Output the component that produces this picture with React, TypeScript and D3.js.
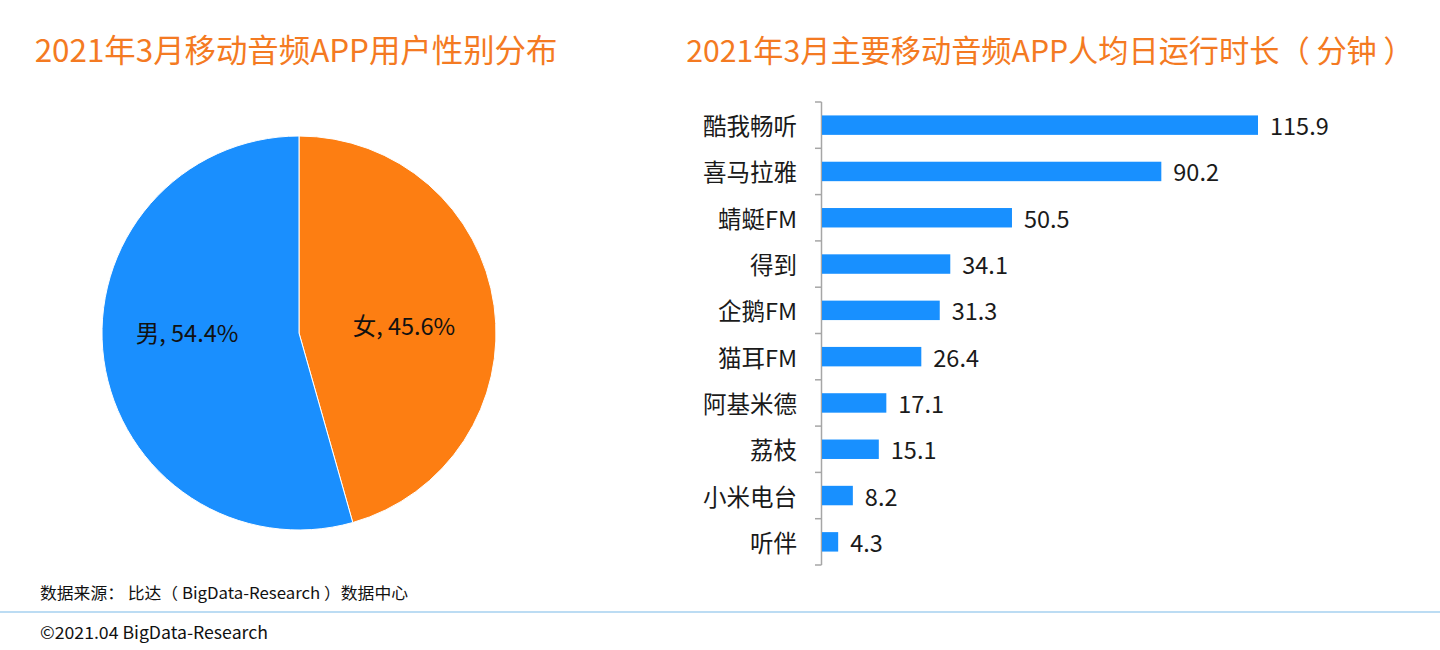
import React from "react";
import * as d3 from "d3";

const pieLabels = ["女", "男"];
const pieValues = [45.6, 54.4];
const pieColors = ["#fd7e12", "#1a8ffe"];

const apps = ["酷我畅听", "喜马拉雅", "蜻蜓FM", "得到", "企鹅FM", "猫耳FM", "阿基米德", "荔枝", "小米电台", "听伴"];
const minutes = [115.9, 90.2, 50.5, 34.1, 31.3, 26.4, 17.1, 15.1, 8.2, 4.3];

const titleLeft = "2021年3月移动音频APP用户性别分布";
const titleRight = "2021年3月主要移动音频APP人均日运行时长（ 分钟 ）";
const sourceText = "数据来源： 比达（ BigData-Research ）数据中心";
const copyText = "©2021.04 BigData-Research";

const FONT = "'Noto Sans CJK SC', 'Noto Sans', sans-serif";

export default function App() {
  const W = 1440, H = 650;
  const cx = 299, cy = 333, r = 197;
  const pie = d3.pie<number>().sort(null).value((d) => d);
  const arcs = pie(pieValues);
  const arc = d3.arc<d3.PieArcDatum<number>>().innerRadius(0).outerRadius(r);
  const labelArc = d3.arc<d3.PieArcDatum<number>>().innerRadius(110).outerRadius(110);

  const y = d3.scaleBand<string>().domain(apps).range([102, 565]).paddingInner(0.58).paddingOuter(0.29);
  const yOuter = d3.scaleBand<string>().domain(apps).range([102, 565]);
  const x = d3.scaleLinear().domain([0, 115.9]).range([822, 1258]);

  return (
    <svg width={W} height={H} style={{ display: "block", position: "absolute", left: 0, top: 0 }} fontFamily={FONT}>
      <rect width={W} height={H} fill="#fff" />
      <text x={296} y={62} textAnchor="middle" fontSize={31.4} fill="#f47a22">{titleLeft}</text>
      <text x={1050} y={62} textAnchor="middle" fontSize={30.2} fill="#f47a22">{titleRight}</text>

      <g transform={`translate(${cx},${cy})`}>
        {arcs.map((a, i) => (
          <path key={i} d={arc(a) || ""} fill={pieColors[i]} stroke="#fff" strokeWidth={1} />
        ))}
        {arcs.map((a, i) => {
          const [lx, ly] = labelArc.centroid(a);
          return (
            <text key={"l" + i} x={lx + (i === 0 ? -4 : -3)} y={ly + (i === 0 ? 11 : -13)} textAnchor="middle" dominantBaseline="middle" fontSize={23.5} fill="#111">
              {`${pieLabels[i]}, ${pieValues[i].toFixed(1)}%`}
            </text>
          );
        })}
      </g>

      <line x1={821.5} x2={821.5} y1={102} y2={565} stroke="#a6a6a6" strokeWidth={1.5} />
      {apps.map((a) => (
        <line key={"t" + a} x1={815} x2={821.5} y1={(yOuter(a) as number)} y2={(yOuter(a) as number)} stroke="#a6a6a6" strokeWidth={1.5} />
      ))}
      <line x1={815} x2={821.5} y1={565} y2={565} stroke="#a6a6a6" strokeWidth={1.5} />
      {apps.map((a, i) => (
        <g key={a}>
          <rect x={x(0)} y={y(a)} width={x(minutes[i]) - x(0)} height={y.bandwidth()} fill="#1890ff" />
          <text x={797} y={(y(a) as number) + y.bandwidth() / 2} textAnchor="end" dominantBaseline="central" fontSize={23.5} fill="#1a1a1a">{a}</text>
          <text x={x(minutes[i]) + 12} y={(y(a) as number) + y.bandwidth() / 2} dominantBaseline="central" fontSize={23.5} fill="#1a1a1a">{minutes[i].toFixed(1)}</text>
        </g>
      ))}

      <text x={40} y={599} fontSize={16} fill="#111" textLength={368} lengthAdjust="spacingAndGlyphs">{sourceText}</text>
      <line x1={0} x2={W} y1={612} y2={612} stroke="#bcdcf3" strokeWidth={2} />
      <text x={40} y={639} fontSize={17} fill="#111" textLength={228} lengthAdjust="spacingAndGlyphs">{copyText}</text>
    </svg>
  );
}
